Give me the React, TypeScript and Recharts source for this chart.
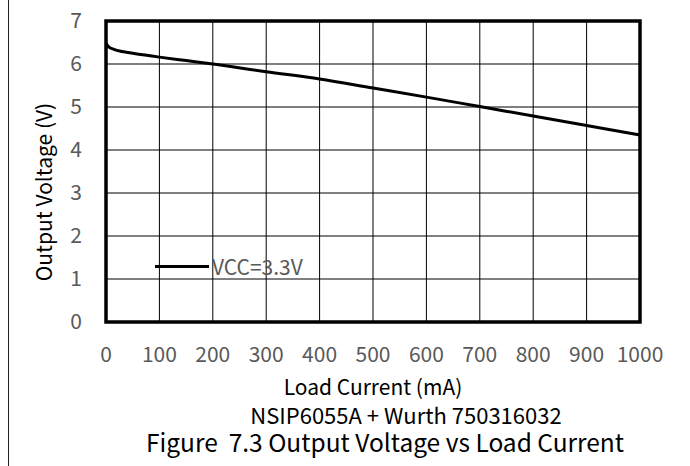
import {
  LineChart,
  Line,
  XAxis,
  YAxis,
  CartesianGrid,
  ReferenceArea,
  Legend,
} from 'recharts';

// load current (mA) and output voltage (V)
const loadCurrent = [0, 5, 15, 30, 50, 100, 150, 200, 300, 400, 500, 600, 700, 800, 900, 1000];
const outputVoltage = [6.48, 6.4, 6.34, 6.29, 6.25, 6.16, 6.08, 6.0, 5.82, 5.65, 5.44, 5.23, 5.01, 4.79, 4.57, 4.35];

const xTicks = [0, 100, 200, 300, 400, 500, 600, 700, 800, 900, 1000];
const yTicks = [0, 1, 2, 3, 4, 5, 6, 7];

const seriesName = 'VCC=3.3V';
const xLabel = 'Load Current (mA)';
const yLabel = 'Output Voltage (V)';
const subTitle = 'NSIP6055A + Wurth 750316032';
const caption = 'Figure  7.3 Output Voltage vs Load Current';

const data = loadCurrent.map((x, i) => ({ x, v: outputVoltage[i] }));

const FONT = '"Noto Sans CJK SC", "Noto Sans", sans-serif';
const TICK = { fill: '#595959', fontSize: 21, fontFamily: FONT };

function LegendBox() {
  return (
    <div style={{ display: 'flex', alignItems: 'center', fontFamily: FONT }}>
      <div style={{ width: 54, height: 3, background: '#000' }} />
      <span style={{ color: '#595959', fontSize: 21, marginLeft: 3, lineHeight: '28px' }}>
        {seriesName}
      </span>
    </div>
  );
}

export default function App() {
  const text = (top: number, size: number, s: string, left = 0) => (
    <div
      style={{
        position: 'absolute',
        top,
        left,
        width: 690,
        height: size,
        textAlign: 'center',
        fontFamily: FONT,
        fontSize: size,
        color: '#000',
        lineHeight: `${size}px`,
        whiteSpace: 'pre',
      }}
    >
      {s}
    </div>
  );

  return (
    <div
      style={{
        position: 'absolute',
        left: 0,
        top: 0,
        width: 690,
        height: 466,
        background: '#fff',
        overflow: 'hidden',
      }}
    >
      <div style={{ position: 'absolute', left: 8, top: 0, width: 1, height: 466, background: '#222' }} />
      <LineChart
        width={690}
        height={466}
        data={data}
        margin={{ top: 21, right: 50, bottom: 84, left: 46 }}
      >
        <CartesianGrid stroke="#000" strokeWidth={1} />
        <XAxis
          dataKey="x"
          type="number"
          domain={[0, 1000]}
          ticks={xTicks}
          axisLine={false}
          tickLine={false}
          tickSize={0}
          tickMargin={25}
          height={60}
          tick={TICK}
        />
        <YAxis
          type="number"
          domain={[0, 7]}
          ticks={yTicks}
          axisLine={false}
          tickLine={false}
          tickSize={0}
          tickMargin={24}
          width={60}
          tick={TICK}
        />
        <ReferenceArea
          x1={0}
          x2={1000}
          y1={0}
          y2={7}
          fill="none"
          fillOpacity={0}
          stroke="#000"
          strokeWidth={3.5}
          ifOverflow="visible"
        />
        <Legend
          layout="vertical"
          align="center"
          verticalAlign="middle"
          wrapperStyle={{ left: 155, top: 252, width: 'auto', height: 28 }}
          content={() => <LegendBox />}
        />
        <Line
          type="monotone"
          dataKey="v"
          name={seriesName}
          stroke="#000"
          strokeWidth={3}
          dot={false}
          isAnimationActive={false}
        />
      </LineChart>
      <div
        style={{
          position: 'absolute',
          left: 43,
          top: 192,
          transform: 'translate(-50%, -50%) rotate(-90deg)',
          fontFamily: FONT,
          fontSize: 21,
          whiteSpace: 'nowrap',
          lineHeight: 1,
        }}
      >
        {yLabel}
      </div>
      {text(376, 21, xLabel, 28)}
      {text(403, 22, subTitle, 61)}
      {text(430, 24.5, caption, 40)}
    </div>
  );
}
